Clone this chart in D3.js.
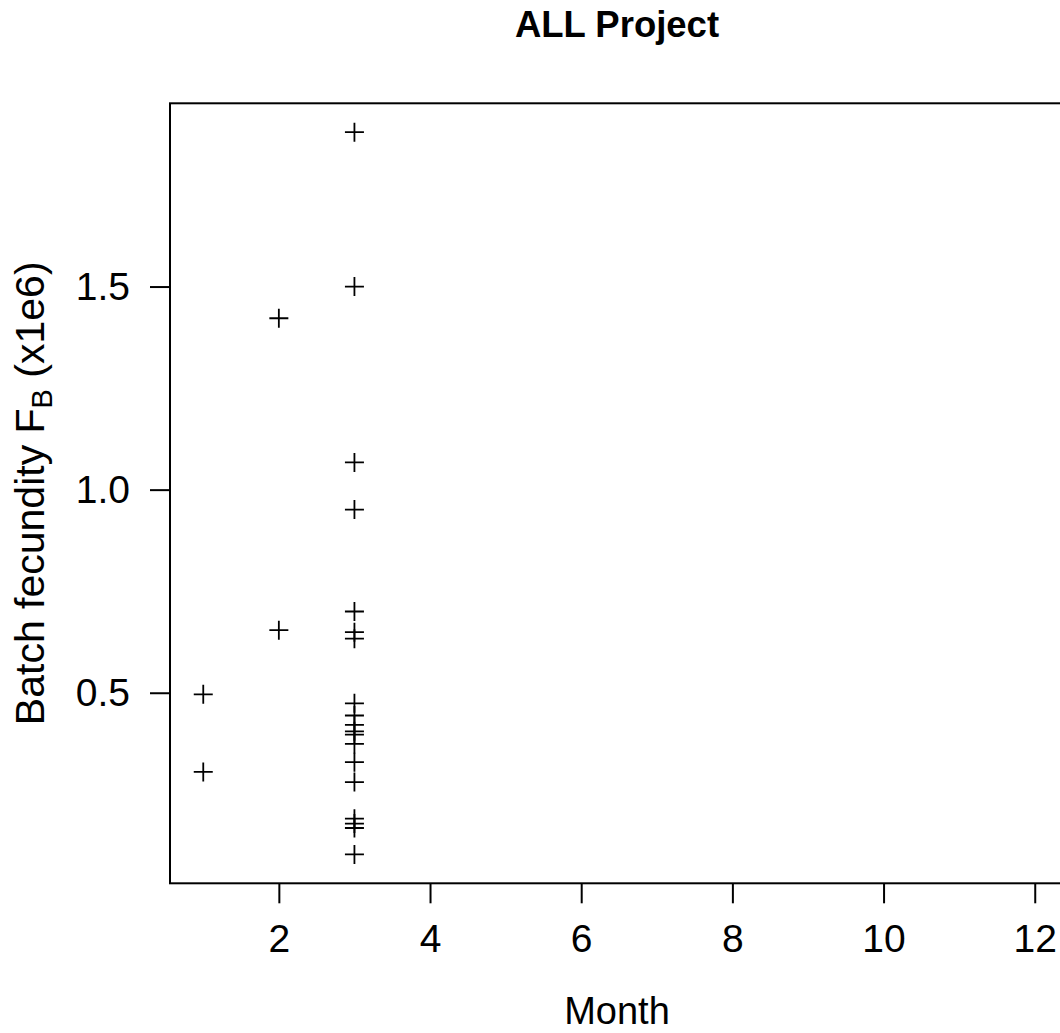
<!DOCTYPE html>
<html>
<head>
<meta charset="utf-8">
<script src="https://cdn.jsdelivr.net/npm/d3@7"></script>
<style>
  body { margin: 0; background: white; }
  text { font-family: "Liberation Sans", Arial, sans-serif; fill: black; }
</style>
</head>
<body>
<div id="chart"></div>
<script>
var width = 1060,
    height = 1033;

// data
var months = [1, 1, 2, 2,
    3, 3, 3, 3, 3, 3, 3, 3, 3, 3, 3, 3, 3, 3, 3, 3, 3, 3, 3];
var fecundity = [0.496, 0.305, 1.422, 0.654,
    1.880, 1.500, 1.067, 0.951, 0.700, 0.649, 0.633, 0.474, 0.444, 0.421,
    0.405, 0.397, 0.374, 0.329, 0.280, 0.190, 0.178, 0.167, 0.102];
var xTicks = [2, 4, 6, 8, 10, 12];
var yTicks = [0.5, 1.0, 1.5];

var points = months.map(function (m, i) { return { month: m, value: fecundity[i] }; });

// plot box (right edge runs past the page like in the original)
var boxLeft = 170, boxRight = 1068, boxTop = 103.3, boxBottom = 883.3;

// R style: range extended by 4% each side
function pad(ext) {
    var d = (ext[1] - ext[0]) * 0.04;
    return [ext[0] - d, ext[1] + d];
}

var x = d3.scaleLinear().domain(pad([1, 12])).range([boxLeft, boxRight]);
var y = d3.scaleLinear().domain(pad(d3.extent(fecundity))).range([boxBottom, boxTop]);

var svg = d3.select("#chart")
    .append("svg")
    .attr("width", width)
    .attr("height", height)
    .style("display", "block")
    .style("background", "white");

svg.append("text")
    .attr("x", 617)
    .attr("y", 37)
    .attr("text-anchor", "middle")
    .attr("font-size", 36.5)
    .attr("font-weight", "bold")
    .text("ALL Project");

var xAxis = svg.append("g")
    .attr("transform", "translate(0," + boxBottom + ")")
    .call(d3.axisBottom(x).tickValues(xTicks).tickSize(20).tickPadding(21)
        .tickFormat(d3.format("d")));

var yAxis = svg.append("g")
    .attr("transform", "translate(" + boxLeft + ",0)")
    .call(d3.axisLeft(y).tickValues(yTicks).tickSize(20).tickPadding(20)
        .tickFormat(d3.format(".1f")));

[xAxis, yAxis].forEach(function (ax) {
    ax.select(".domain").remove();
    ax.selectAll("line").attr("stroke", "#000").attr("stroke-width", 2);
    ax.selectAll("text")
        .attr("font-size", 39)
        .attr("font-family", "'Liberation Sans', Arial, sans-serif")
        .attr("fill", "#000");
});

svg.append("rect")
    .attr("x", boxLeft)
    .attr("y", boxTop)
    .attr("width", boxRight - boxLeft)
    .attr("height", boxBottom - boxTop)
    .attr("fill", "none")
    .attr("stroke", "#000")
    .attr("stroke-width", 2);

var s = 9.5;
svg.append("g")
    .selectAll("path")
    .data(points)
    .enter()
    .append("path")
    .attr("d", function (d) {
        var cx = x(d.month), cy = y(d.value);
        return "M" + (cx - s) + "," + cy + "H" + (cx + s) +
            "M" + cx + "," + (cy - s) + "V" + (cy + s);
    })
    .attr("stroke", "#000")
    .attr("stroke-width", 1.8)
    .attr("fill", "none");

svg.append("text")
    .attr("x", 617)
    .attr("y", 1024)
    .attr("text-anchor", "middle")
    .attr("font-size", 38)
    .text("Month");

var ylab = svg.append("text")
    .attr("transform", "translate(44," + ((boxTop + boxBottom) / 2) + ") rotate(-90)")
    .attr("text-anchor", "middle")
    .attr("font-size", 41);
ylab.append("tspan").text("Batch fecundity F");
ylab.append("tspan").attr("font-size", 29).attr("dy", 8).text("B");
ylab.append("tspan").attr("dy", -8).text(" (x1e6)");
</script>
</body>
</html>
